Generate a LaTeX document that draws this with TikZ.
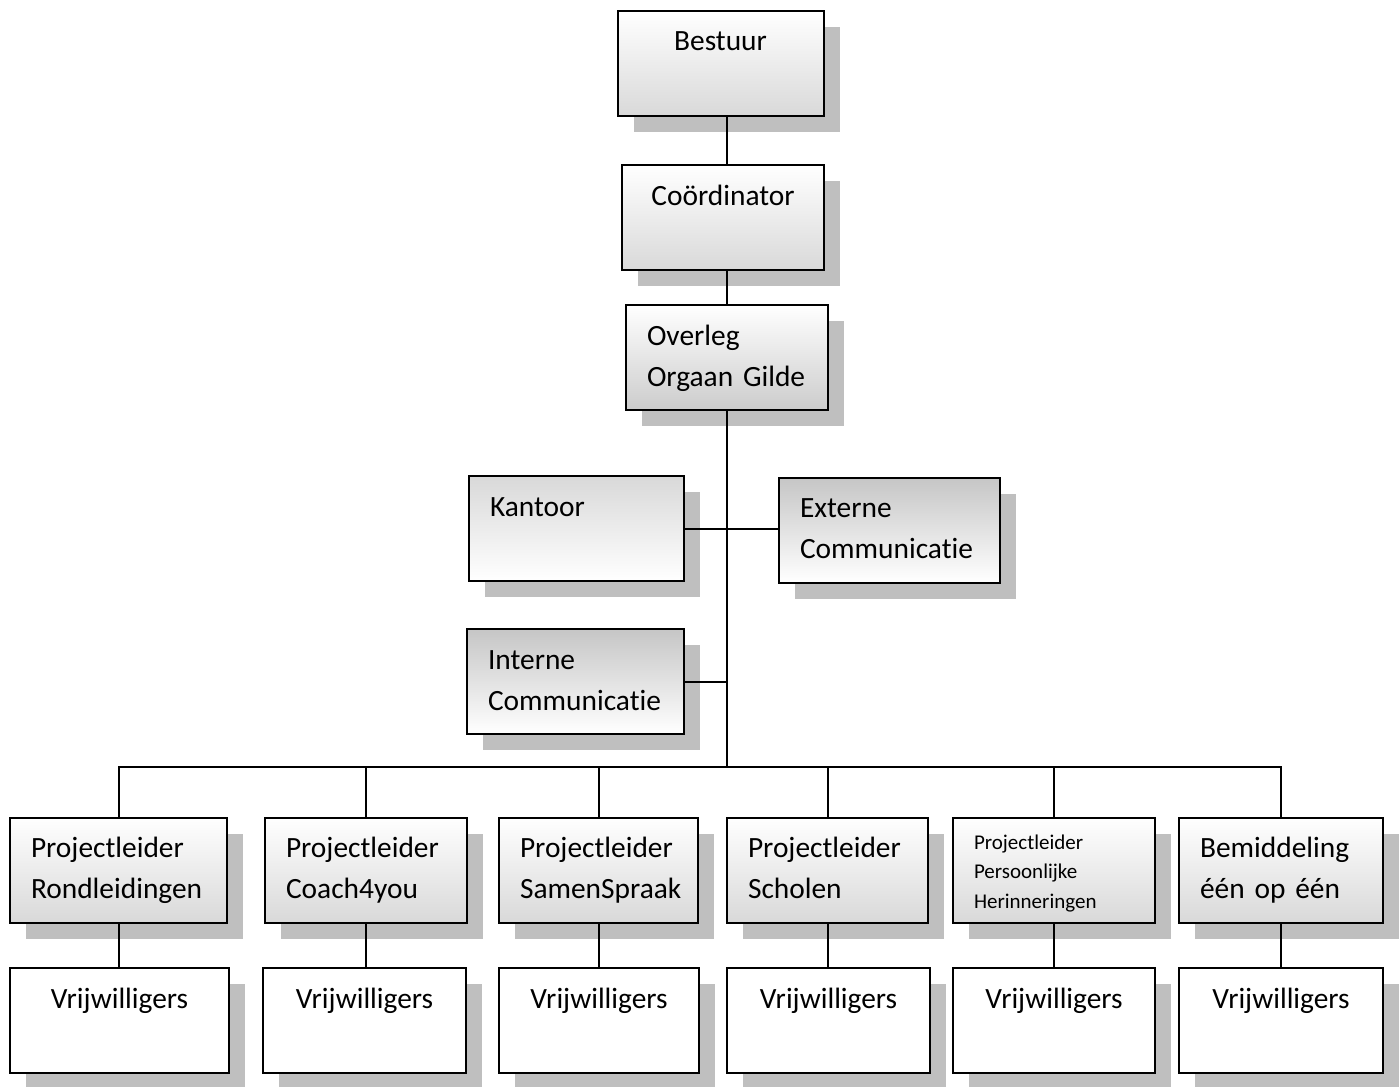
\documentclass[tikz,border=0pt]{standalone}
\usepackage{fontspec}
\setmainfont{Carlito}[Ligatures=CommonOff]
\usetikzlibrary{positioning, shadows}
\tikzstyle{line} = [line width=1pt]

\begin{document}
\begin{tikzpicture}[x=0.5pt,y=-0.5pt]
        \tikzstyle{every node}=[font=\fontsize{14.7}{20.5}\selectfont]
        \tikzstyle{box} = [rectangle, draw=black, line width=1pt, minimum height=52.5pt, inner xsep=10.5pt, inner ysep=0pt, align=left, text height=10pt, text depth=22.5pt, drop shadow={shadow xshift=8pt, shadow yshift=-8pt, fill=gray!50, opacity=1}]
        \tikzstyle{whitetop} = [top color=white, bottom color=gray!30]
        \tikzstyle{graytop} = [top color=gray!45, bottom color=white]
        \tikzstyle{plain} = [fill=white, align=center]
        \tikzstyle{small} = [font=\fontsize{10.5}{14.75}\selectfont, text height=7pt, text depth=27.7pt]

        \useasboundingbox (0,0) rectangle (1400,1086);

        % top of the tree
        \node[box, whitetop, align=center, text width=82pt](bestuur) at (720.5,63.5) {Bestuur};
        \node[box, whitetop, align=center, text width=80pt](coord) at (723,217.5) {Coördinator};
        \node[box, top color=white, bottom color=gray!40, text width=80pt](overleg) at (727,357.5) {Overleg\\Orgaan Gilde};

        % staff
        \node[box, top color=gray!30, bottom color=white, text width=86.5pt](kantoor) at (576.5,528.5) {Kantoor};
        \node[box, graytop, text width=89.5pt](externe) at (889.5,530) {Externe\\Communicatie};
        \node[box, graytop, text width=87.5pt](interne) at (575.5,681.5) {Interne\\Communicatie};

        % project leaders
        \node[box, whitetop, text width=87.5pt](pl1) at (118.5,870) {Projectleider\\Rondleidingen};
        \node[box, whitetop, text width=80pt](pl2) at (366,870) {Projectleider\\Coach4you};
        \node[box, whitetop, text width=78.5pt](pl3) at (598.5,870) {Projectleider\\SamenSpraak};
        \node[box, whitetop, text width=79.5pt](pl4) at (827.5,870) {Projectleider\\Scholen};
        \node[box, whitetop, small, text width=80pt](pl5) at (1054,870) {Projectleider\\Persoonlijke\\Herinneringen};
        \node[box, whitetop, text width=81pt](pl6) at (1281,870) {Bemiddeling\\één op één};

        % volunteers
        \node[box, plain, text width=88.5pt](vr1) at (119.5,1020.5) {Vrijwilligers};
        \node[box, plain, text width=80.5pt](vr2) at (364.5,1020.5) {Vrijwilligers};
        \node[box, plain, text width=79pt](vr3) at (599,1020.5) {Vrijwilligers};
        \node[box, plain, text width=80.5pt](vr4) at (828.5,1020.5) {Vrijwilligers};
        \node[box, plain, text width=80pt](vr5) at (1054,1020.5) {Vrijwilligers};
        \node[box, plain, text width=81pt](vr6) at (1281,1020.5) {Vrijwilligers};

        % trunk and bus
        \coordinate (bus) at (727,767);
        \draw[line] (bestuur.south -| bus) -- (coord.north -| bus);
        \draw[line] (coord.south -| bus) -- (overleg.north -| bus);
        \draw[line] (overleg.south) -- (bus);
        \draw[line] (kantoor.east) -- (kantoor.east -| externe.west);
        \draw[line] (interne.east) -- (interne.east -| bus);
        \draw[line] (pl1.north) |- (bus) -| (pl6.north);

        \foreach \i in {2,...,5}
            \draw[line] (pl\i.north) -- (pl\i.north |- bus);
        \foreach \i in {1,...,6}
            \draw[line] (pl\i.south) -- (pl\i.south |- vr\i.north);
\end{tikzpicture}
\end{document}
